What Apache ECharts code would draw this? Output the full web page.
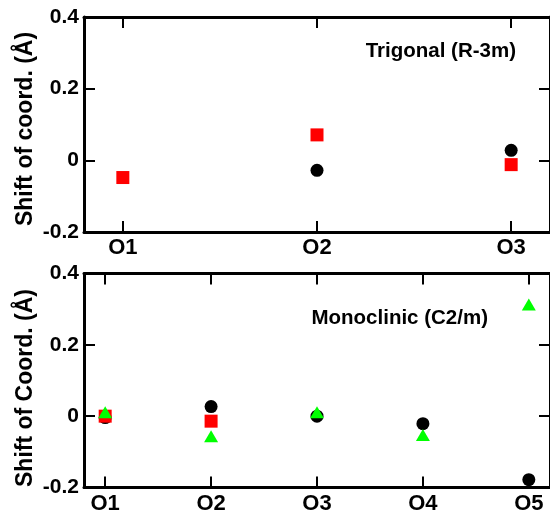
<!DOCTYPE html>
<html>
<head>
<meta charset="utf-8">
<script src="https://cdn.jsdelivr.net/npm/echarts@6/dist/echarts.min.js"></script>
<style>
  html, body { margin: 0; padding: 0; background: #fff; }
  #chart { width: 550px; height: 518px; }
</style>
</head>
<body>
<div id="chart"></div>
<script>
// Oxygen-site coordinate shifts (Å) for the two structures
const trigonalSites = ['O1', 'O2', 'O3'];
const trigonalBlack = [null, -0.028, 0.028];
const trigonalRed = [-0.048, 0.071, -0.012];

const monoclinicSites = ['O1', 'O2', 'O3', 'O4', 'O5'];
const monoclinicBlack = [-0.004, 0.027, 0.000, -0.021, -0.178];
const monoclinicRed = [0.000, -0.014, null, null, null];
const monoclinicGreen = [0.011, -0.056, 0.011, -0.053, 0.313];

const yMin = -0.2, yMax = 0.4, yStep = 0.2;

const FONT = '"Liberation Sans", Arial, Helvetica, sans-serif';
const SPINE = { show: true, onZero: false, lineStyle: { color: '#000', width: 3 } };
const TICK = { show: true, inside: true, length: 11, lineStyle: { color: '#000', width: 2 } };

function points(values) {
  const out = [];
  values.forEach((v, i) => { if (v !== null) out.push([i + 1, v]); });
  return out;
}

function siteAxes(sites, gridIndex) {
  const positions = sites.map((_, i) => i + 1);
  const base = {
    type: 'value', gridIndex, min: 0.8, max: sites.length + 0.2,
    axisLine: SPINE, splitLine: { show: false },
    axisTick: Object.assign({}, TICK, { customValues: positions })
  };
  return [
    Object.assign({}, base, {
      position: 'bottom',
      axisLabel: {
        customValues: positions, margin: 5, color: '#000',
        fontFamily: FONT, fontWeight: 'bold', fontSize: 22,
        formatter: v => sites[Math.round(v) - 1] || ''
      }
    }),
    Object.assign({}, base, { position: 'top', axisLabel: { show: false } })
  ];
}

function shiftAxes(gridIndex) {
  const base = {
    type: 'value', gridIndex, min: yMin, max: yMax, interval: yStep,
    axisLine: SPINE, axisTick: TICK, splitLine: { show: false }
  };
  return [
    Object.assign({}, base, {
      position: 'left',
      axisLabel: {
        margin: 5, color: '#000', fontFamily: FONT, fontWeight: 'bold', fontSize: 21,
        formatter: v => (Math.abs(v) < 1e-9 ? '0' : v.toFixed(1))
      }
    }),
    Object.assign({}, base, { position: 'right', axisLabel: { show: false } })
  ];
}

function scatter(values, xi, yi, symbol, size, color) {
  return {
    type: 'scatter', xAxisIndex: xi, yAxisIndex: yi,
    symbol, symbolSize: size, itemStyle: { color, opacity: 1 },
    data: points(values), silent: true
  };
}

function label(text, x, y, size, align, rotation) {
  return {
    type: 'text', x, y, rotation: rotation || 0,
    style: { text, font: 'bold ' + size + 'px ' + FONT, fill: '#000', align, verticalAlign: 'middle' }
  };
}

const chart = echarts.init(document.getElementById('chart'), null, { renderer: 'canvas' });
chart.setOption({
  animation: false,
  backgroundColor: '#fff',
  grid: [
    { left: 84, top: 17, right: -2, height: 215 },
    { left: 84, top: 273.5, right: -2, height: 214 }
  ],
  xAxis: siteAxes(trigonalSites, 0).concat(siteAxes(monoclinicSites, 1)),
  yAxis: shiftAxes(0).concat(shiftAxes(1)),
  series: [
    scatter(trigonalBlack, 0, 0, 'circle', 13, '#000'),
    scatter(trigonalRed, 0, 0, 'rect', 13, '#ff0000'),
    scatter(monoclinicBlack, 2, 2, 'circle', 13, '#000'),
    scatter(monoclinicRed, 2, 2, 'rect', 13, '#ff0000'),
    scatter(monoclinicGreen, 2, 2, 'triangle', [14, 12], '#00ff00')
  ],
  graphic: [
    label('Shift of coord. (Å)', 26, 129, 23, 'center', Math.PI / 2),
    label('Shift of Coord. (Å)', 26, 388, 23, 'center', Math.PI / 2),
    label('Trigonal (R-3m)', 516, 51, 20.5, 'right'),
    label('Monoclinic (C2/m)', 488, 318, 20.5, 'right')
  ]
});
</script>
</body>
</html>
